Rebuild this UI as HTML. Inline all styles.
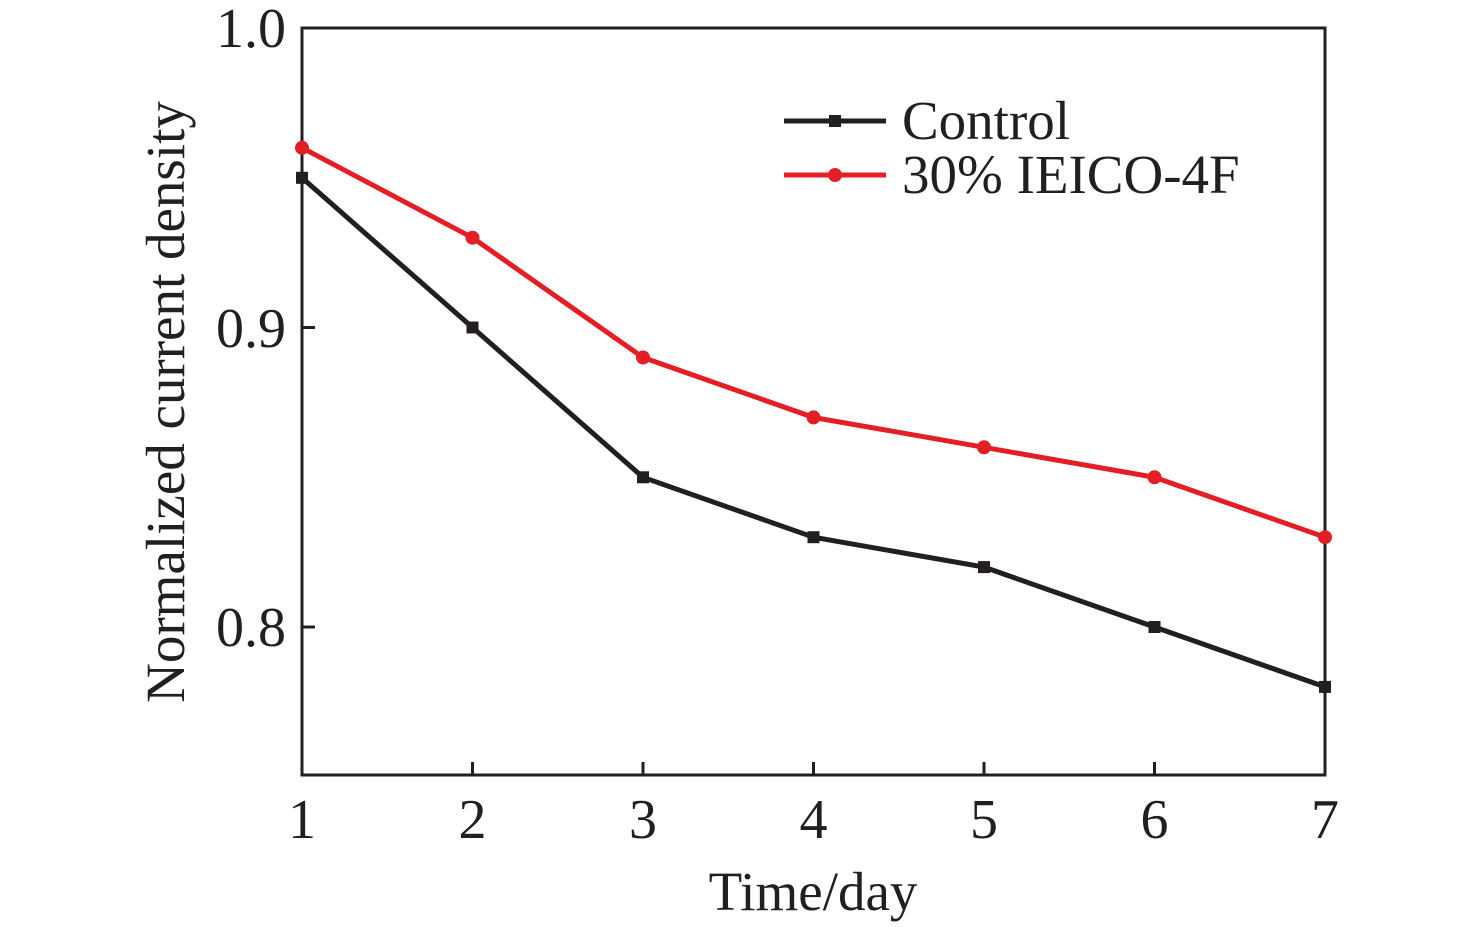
<!DOCTYPE html>
<html><head><style>html,body{margin:0;padding:0;background:#fff;}svg{display:block}</style></head>
<body>
<svg width="1476" height="927" viewBox="0 0 1476 927" xmlns="http://www.w3.org/2000/svg" font-family="'Liberation Serif', serif" fill="#231f20">
<rect x="302" y="28" width="1023" height="747" fill="none" stroke="#231f20" stroke-width="3"/>
<g stroke="#231f20" stroke-width="3">
<line x1="302" y1="327.5" x2="315" y2="327.5"/><line x1="302" y1="627" x2="315" y2="627"/>
<line x1="472.5" y1="775" x2="472.5" y2="762"/><line x1="643" y1="775" x2="643" y2="762"/>
<line x1="813.5" y1="775" x2="813.5" y2="762"/><line x1="984" y1="775" x2="984" y2="762"/>
<line x1="1154.5" y1="775" x2="1154.5" y2="762"/>
</g>
<g font-size="56" text-anchor="end">
<text x="286" y="47">1.0</text><text x="286" y="347">0.9</text><text x="286" y="646">0.8</text>
</g>
<g font-size="56" text-anchor="middle">
<text x="302" y="838">1</text><text x="472.5" y="838">2</text><text x="643" y="838">3</text><text x="813.5" y="838">4</text><text x="984" y="838">5</text><text x="1154.5" y="838">6</text><text x="1325" y="838">7</text>
</g>
<text x="813" y="910" font-size="55" text-anchor="middle">Time/day</text>
<text transform="translate(184,402) rotate(-90)" font-size="55" text-anchor="middle">Normalized current density</text>
<polyline fill="none" stroke="#231f20" stroke-width="5" points="302,177.8 472.5,327.5 643,477.3 813.5,537.2 984,567.1 1154.5,627 1325,686.9"/>
<g fill="#231f20">
<rect x="296" y="171.8" width="12" height="12"/><rect x="466.5" y="321.5" width="12" height="12"/><rect x="637" y="471.3" width="12" height="12"/><rect x="807.5" y="531.2" width="12" height="12"/><rect x="978" y="561.1" width="12" height="12"/><rect x="1148.5" y="621" width="12" height="12"/><rect x="1319" y="680.9" width="12" height="12"/>
</g>
<polyline fill="none" stroke="#e31e24" stroke-width="5" points="302,147.8 472.5,237.7 643,357.5 813.5,417.4 984,447.3 1154.5,477.3 1325,537.2"/>
<g fill="#e31e24">
<circle cx="302" cy="147.8" r="7"/><circle cx="472.5" cy="237.7" r="7"/><circle cx="643" cy="357.5" r="7"/><circle cx="813.5" cy="417.4" r="7"/><circle cx="984" cy="447.3" r="7"/><circle cx="1154.5" cy="477.3" r="7"/><circle cx="1325" cy="537.2" r="7"/>
</g>
<line x1="784" y1="121" x2="886" y2="121" stroke="#231f20" stroke-width="5"/>
<rect x="829" y="115" width="12" height="12"/>
<line x1="784" y1="175" x2="886" y2="175" stroke="#e31e24" stroke-width="5"/>
<circle cx="835" cy="175" r="7" fill="#e31e24"/>
<text x="902" y="139" font-size="55">Control</text>
<text x="902" y="193" font-size="55">30% IEICO-4F</text>
</svg>
</body></html>
